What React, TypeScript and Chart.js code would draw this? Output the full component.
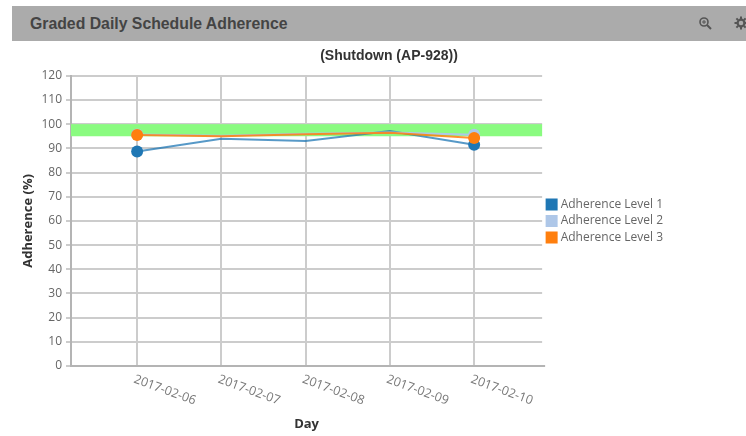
import React, { useEffect, useRef } from "react";
import Chart from "chart.js/auto";

const days = ["2017-02-06", "2017-02-07", "2017-02-08", "2017-02-09", "2017-02-10"];
const level1 = [88.7, 94, 93, 97.2, 91.5];
const level2 = [95.7, 95.2, 96, 96.6, 95.6];
const level3 = [95.5, 95, 95.8, 96.5, 94.3];
const bandLow = 95;
const bandHigh = 100;
const seriesNames = ["Adherence Level 1", "Adherence Level 2", "Adherence Level 3"];
const seriesColors = ["#1f77b4", "#aec7e8", "#ff7f0e"];
const lineColors = ["rgba(31,119,180,0.75)", "#aec7e8", "rgba(255,127,14,0.85)"];
const seriesValues = [level1, level2, level3];

const TICK_FONT = "12.5px 'Open Sans'";

const overlay = {
  id: "overlay",
  afterLayout(chart: any) {
    const title = chart.titleBlock;
    const dx = 389 - (title.left + title.right) / 2;
    title.left += dx;
    title.right += dx;
    const legend = chart.legend;
    const dy = 221 - (legend.top + legend.bottom) / 2;
    legend.top += dy;
    legend.bottom += dy;
    legend.left += 2;
    legend.right += 2;
  },
  beforeDatasetsDraw(chart: any) {
    const { ctx, scales } = chart;
    const x = scales.x;
    const y = scales.y;
    ctx.save();
    ctx.fillStyle = "#8afb80";
    ctx.fillRect(x.left, y.getPixelForValue(bandHigh), x.right - x.left, y.getPixelForValue(bandLow) - y.getPixelForValue(bandHigh));
    ctx.strokeStyle = "#b4b4b4";
    ctx.lineWidth = 2;
    ctx.beginPath();
    ctx.moveTo(x.right, y.bottom);
    ctx.lineTo(x.right + 3, y.bottom);
    ctx.stroke();
    ctx.restore();
  },
  afterDraw(chart: any) {
    const { ctx, scales } = chart;
    const x = scales.x;
    ctx.save();
    ctx.font = TICK_FONT;
    ctx.fillStyle = "#777777";
    ctx.textAlign = "left";
    ctx.textBaseline = "middle";
    days.forEach((d, i) => {
      ctx.save();
      ctx.translate(x.getPixelForValue(i) - 3, x.top + 13);
      ctx.rotate((20 * Math.PI) / 180);
      ctx.fillText(d, 0, 0);
      ctx.restore();
    });
    ctx.restore();
  },
};

function Icons() {
  return (
    <>
      <svg width="14" height="14" viewBox="0 0 14 14" style={{ position: "absolute", left: 698, top: 16 }}>
        <circle cx="6" cy="6" r="4" fill="none" stroke="#555" strokeWidth="1.6" />
        <path d="M9 9 L13 13" stroke="#555" strokeWidth="2" />
        <path d="M4 6 H8 M6 4 V8" stroke="#555" strokeWidth="1" />
      </svg>
      <svg width="14" height="14" viewBox="0 0 14 14" style={{ position: "absolute", left: 734, top: 16 }}>
        <circle cx="7" cy="7" r="3.4" fill="none" stroke="#555" strokeWidth="2.2" />
        <path d="M7 0.5 V3 M7 11 V13.5 M0.5 7 H3 M11 7 H13.5 M2.4 2.4 L4 4 M10 10 L11.6 11.6 M2.4 11.6 L4 10 M10 4 L11.6 2.4" stroke="#555" strokeWidth="2" />
      </svg>
    </>
  );
}

export default function App() {
  const ref = useRef<HTMLCanvasElement>(null);
  useEffect(() => {
    const chart = new Chart(ref.current!, {
      type: "line",
      plugins: [overlay],
      data: {
        datasets: seriesNames.map((name, s) => ({
          label: name,
          data: seriesValues[s].map((v, i) => ({ x: i, y: v })),
          order: 2 - s,
          borderColor: lineColors[s],
          backgroundColor: seriesColors[s],
          borderWidth: 2,
          pointRadius: (c: any) => (c.dataIndex === 0 || c.dataIndex === days.length - 1 ? 6 : 0),
          pointBorderWidth: 0,
          tension: 0,
        })),
      },
      options: {
        responsive: false,
        animation: false,
        layout: { padding: { top: 48, right: 75, left: 0, bottom: 4 } },
        plugins: {
          tooltip: { enabled: false },
          title: {
            display: true,
            text: "(Shutdown (AP-928))",
            font: { family: "'Liberation Sans'", size: 14, weight: "bold" },
            color: "#333333",
            padding: { top: 0, bottom: 11 },
          },
          legend: {
            position: "right",
            labels: {
              usePointStyle: true,
              pointStyle: "rect",
              boxWidth: 6,
              boxHeight: 12,
              padding: 4.5,
              color: "#666666",
              font: { family: "'Open Sans'", size: 12 },
              generateLabels: () =>
                seriesNames.map((n, i) => ({
                  text: n,
                  fillStyle: seriesColors[i],
                  strokeStyle: seriesColors[i],
                  pointStyle: "rect",
                  lineWidth: 0,
                  fontColor: "#666666",
                  datasetIndex: i,
                })),
            },
          },
        },
        scales: {
          x: {
            type: "linear",
            min: -0.785,
            max: 4.807,
            afterBuildTicks: (s: any) => {
              s.ticks = days.map((_, i) => ({ value: i }));
            },
            afterFit: (s: any) => {
              s.height = 66;
            },
            ticks: { display: false },
            grid: { color: "#cccccc", lineWidth: 2, drawTicks: false },
            border: { color: "#b4b4b4", width: 2 },
            title: {
              display: true,
              text: "Day",
              color: "#333333",
              font: { family: "'Open Sans'", size: 13, weight: "bold" },
              padding: 0,
            },
          },
          y: {
            min: 0,
            max: 120,
            afterFit: (s: any) => {
              s.width = 71;
            },
            ticks: {
              stepSize: 10,
              color: "#666666",
              padding: 4,
              font: { family: "'Open Sans'", size: 12 },
            },
            grid: { color: "#cccccc", lineWidth: 2, tickLength: 5 },
            border: { color: "#b4b4b4", width: 2 },
            title: {
              display: true,
              text: "Adherence (%)",
              color: "#333333",
              font: { family: "'Open Sans'", size: 13, weight: "bold" },
              padding: { top: 20, bottom: 0 },
            },
          },
        },
      },
    } as any);
    return () => chart.destroy();
  }, []);
  return (
    <div style={{ position: "fixed", left: 0, top: 0, width: 746, height: 436, overflow: "hidden", background: "#fff" }}>
      <canvas ref={ref} width={746} height={436} style={{ position: "absolute", left: 0, top: 0, display: "block" }} />
      <div style={{ position: "absolute", left: 12, top: 6, width: 734, height: 35, background: "#ababab" }} />
      <div style={{ position: "absolute", left: 30, top: 15, font: "bold 15.8px 'Liberation Sans'", color: "#444", whiteSpace: "nowrap" }}>
        Graded Daily Schedule Adherence
      </div>
      <Icons />
    </div>
  );
}
